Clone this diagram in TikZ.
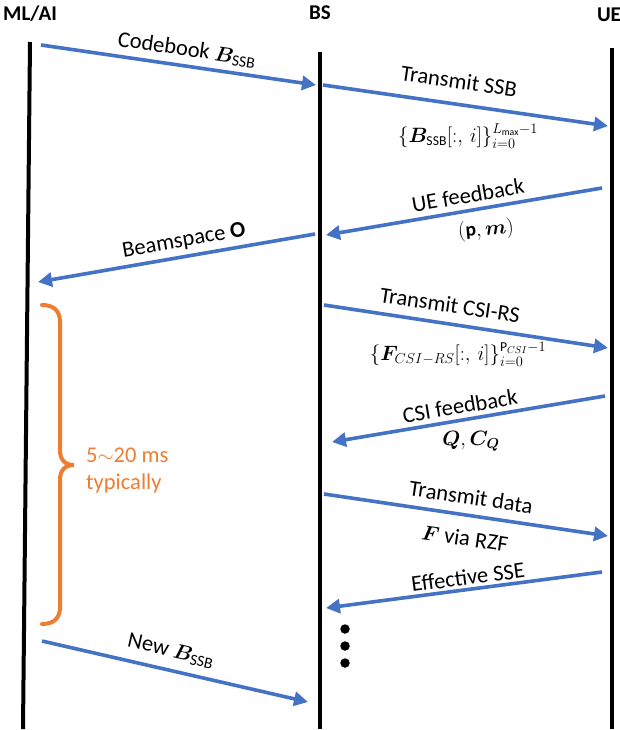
\documentclass[tikz,border=0pt]{standalone}
\usepackage{amsmath}
\usepackage{bm}
\usepackage{fontspec}
\setmainfont{Carlito}
\usetikzlibrary{arrows.meta}
\definecolor{msgblue}{HTML}{4472C4}
\definecolor{braceorange}{HTML}{ED7D31}
\tikzset{
  title/.style={font=\fontsize{21}{25}\selectfont\bfseries, inner sep=0pt},
  lifeline/.style={line width=4pt, black},
  msg/.style={line width=3.6pt, msgblue, -{Triangle[length=14pt,width=14pt]}},
  lbl/.style={font=\fontsize{22.5}{26}\selectfont, inner sep=0pt},
  mlbl/.style={font=\fontsize{19.5}{23}\selectfont, inner sep=0pt},
  otext/.style={font=\fontsize{22.5}{26}\selectfont, text=braceorange, inner sep=0pt, anchor=west},
  bracestyle/.style={line width=4pt, braceorange, line cap=round},
  dotnode/.style={circle, fill=black, inner sep=0pt, minimum size=9.5pt}
}
\begin{document}
\begin{tikzpicture}[x=1pt,y=-1pt]
\useasboundingbox (0,0) rectangle (620,730);
% titles
\node[title] (mlai) at (30,14) {ML/AI};
\node[title] (bs) at (320,13) {BS};
\node[title] (ue) at (609,15) {UE};
% lifelines
\coordinate (mlTop) at (30,42); \coordinate (mlBot) at (23,729);
\coordinate (bsTop) at (320,52); \coordinate (bsBot) at (320,729);
\coordinate (ueTop) at (612,48); \coordinate (ueBot) at (612,729);
\draw[lifeline] (mlTop) -- (mlBot);
\draw[lifeline] (bsTop) -- (bsBot);
\draw[lifeline] (ueTop) -- (ueBot);
% message end points
\coordinate (m1s) at (41,45);   \coordinate (m1e) at (316,85);
\coordinate (m2s) at (323,85);  \coordinate (m2e) at (608,126);
\coordinate (m3s) at (602,188); \coordinate (m3e) at (326,235);
\coordinate (m4s) at (315,234); \coordinate (m4e) at (38,282);
\coordinate (m5s) at (324,305); \coordinate (m5e) at (608,348);
\coordinate (m6s) at (605,396); \coordinate (m6e) at (332,442);
\coordinate (m7s) at (324,494); \coordinate (m7e) at (608,536);
\coordinate (m8s) at (602,572); \coordinate (m8e) at (326,608);
\coordinate (m9s) at (42,641);  \coordinate (m9e) at (308,702);
\draw[msg] (m1s) -- (m1e);
\draw[msg] (m2s) -- (m2e);
\draw[msg] (m3s) -- (m3e);
\draw[msg] (m4s) -- (m4e);
\draw[msg] (m5s) -- (m5e);
\draw[msg] (m6s) -- (m6e);
\draw[msg] (m7s) -- (m7e);
\draw[msg] (m8s) -- (m8e);
\draw[msg] (m9s) -- (m9e);
% labels
\node[lbl, rotate=-8.3] (l1) at (187,50) {Codebook $\bm{B}_{\text{SSB}}$};
\node[lbl, rotate=-8.2] (l2) at (459,81) {Transmit SSB};
\node[mlbl] (l2b) at (468,136) {$\{\bm{B}_{\text{SSB}}[:,\,i]\}_{i=0}^{L_{\max}-1}$};
\node[lbl, rotate=9.7] (l3) at (468,195) {UE feedback};
\node[mlbl, rotate=5] (l3b) at (486,230) {$(\mathbf{p},\bm{m})$};
\node[lbl, rotate=9.8] (l4) at (184,241) {Beamspace $\mathbf{O}$};
\node[lbl, rotate=-8.6] (l5) at (450,305) {Transmit CSI-RS};
\node[mlbl] (l5b) at (458,354) {$\{\bm{F}_{CSI-RS}[:,\,i]\}_{i=0}^{\mathrm{P}_{CSI}-1}$};
\node[lbl, rotate=9.6] (l6) at (460,406) {CSI feedback};
\node[mlbl] (l6b) at (471,441) {$\bm{Q},\bm{C}_{\bm{Q}}$};
\node[lbl, rotate=-8.4] (l7) at (471,497) {Transmit data};
\node[lbl, rotate=-8.4] (l7b) at (465,538) {$\bm{F}$ via RZF};
\node[lbl, rotate=7.4] (l8) at (468,577) {Effective SSE};
\node[lbl, rotate=-12.9] (l9) at (171,651) {New $\bm{B}_{\text{SSB}}$};
% brace
\draw[bracestyle] (42,305) .. controls (54,305) and (60,311) .. (60,322)
  -- (60,450) .. controls (60,460) and (65,465) .. (74,465)
  .. controls (65,465) and (60,470) .. (60,480)
  -- (60,607) .. controls (60,618) and (54,624) .. (42,624);
\node[otext] (t1) at (86,455) {5$\mathord{\sim}$20 ms};
\node[otext] (t2) at (86,483) {typically};
% dots
\node[dotnode] (d1) at (345,629) {};
\node[dotnode] (d2) at (345,646) {};
\node[dotnode] (d3) at (345,663) {};
\end{tikzpicture}
\end{document}
